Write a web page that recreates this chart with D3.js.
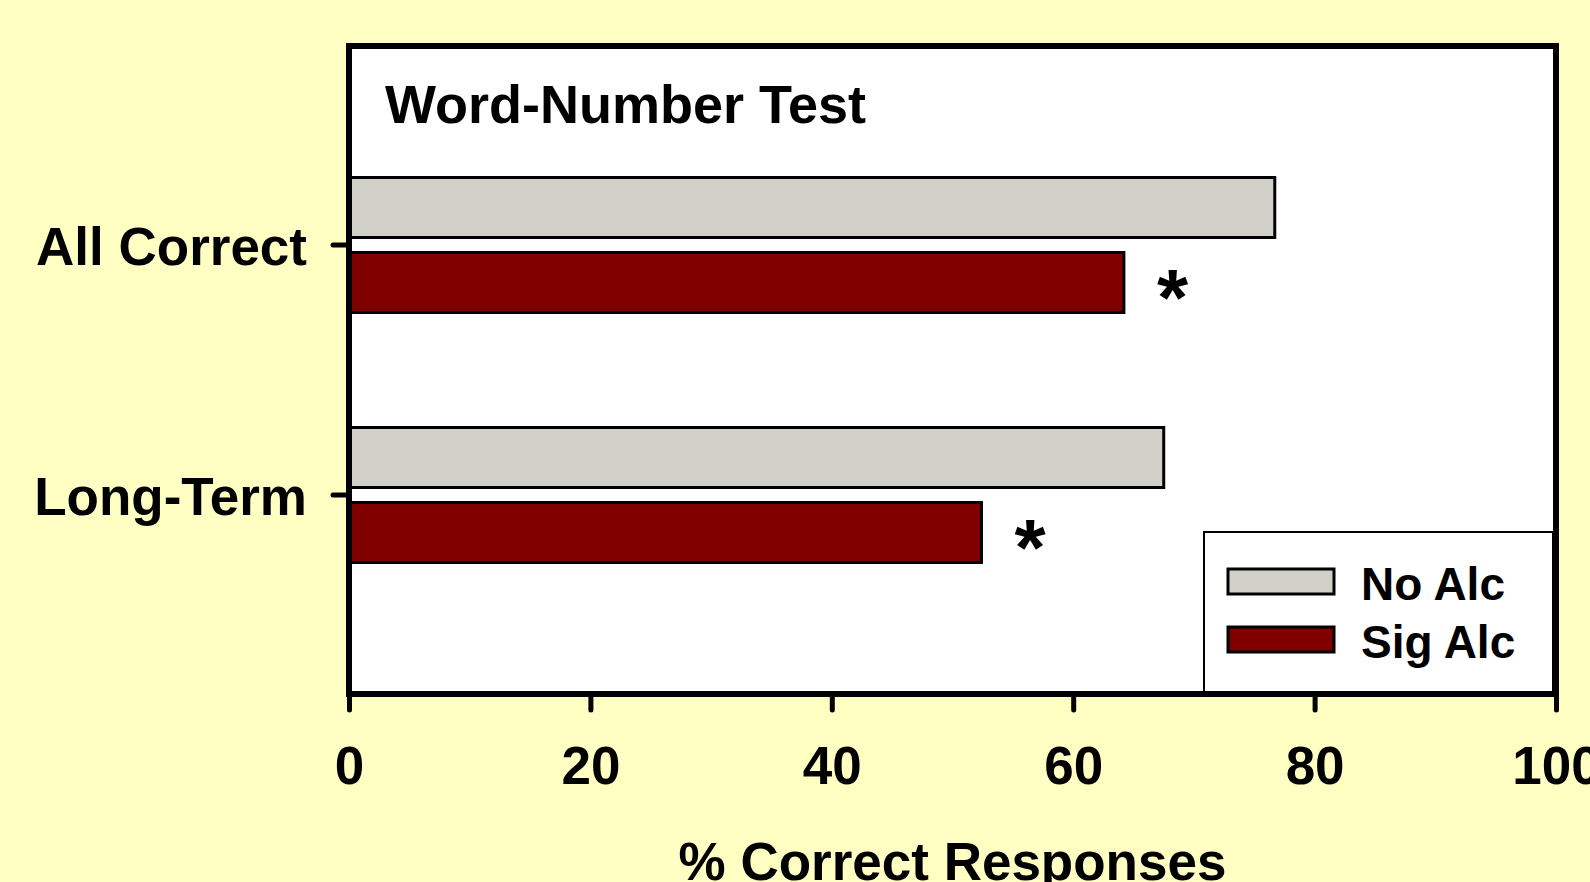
<!DOCTYPE html>
<html>
<head>
<meta charset="utf-8">
<script src="https://cdn.jsdelivr.net/npm/d3@7"></script>
<style>
  html, body { margin: 0; padding: 0; background: #ffffc4; }
  svg { display: block; font-family: "Liberation Sans", Arial, sans-serif; font-weight: bold; }
</style>
</head>
<body>
<div id="chart"></div>
<script>
const categories = ["All Correct", "Long-Term"];
const seriesNames = ["No Alc", "Sig Alc"];
const noAlc = [76.7, 67.5];
const sigAlc = [64.2, 52.4];
const sigMarks = [true, true]; // asterisk after Sig Alc bar
const xTicks = [0, 20, 40, 60, 80, 100];
const colors = ["#d0d0c8", "#800000"];

const width = 1590, height = 882;
const plot = { left: 349, right: 1556, top: 46, bottom: 694 };

const svg = d3.select("#chart")
    .append("svg")
    .attr("width", width)
    .attr("height", height);

svg.append("rect")
    .attr("width", width)
    .attr("height", height)
    .attr("fill", "#ffffc4");

const x = d3.scaleLinear()
    .domain([0, 100])
    .range([plot.left, plot.right]);

const y = d3.scaleBand()
    .domain(categories)
    .range([120, 620])
    .paddingInner(0.46)
    .paddingOuter(0.23);

const ySub = d3.scaleBand()
    .domain(seriesNames)
    .range([0, y.bandwidth()])
    .paddingInner(0.2);

const rows = categories.map((c, i) => ({
    category: c,
    values: [noAlc[i], sigAlc[i]],
    sig: sigMarks[i]
}));

// plot background
svg.append("rect")
    .attr("x", plot.left)
    .attr("y", plot.top)
    .attr("width", plot.right - plot.left)
    .attr("height", plot.bottom - plot.top)
    .attr("fill", "#fff");

// bars
const groups = svg.append("g")
    .selectAll("g")
    .data(rows)
    .join("g")
    .attr("transform", d => `translate(0,${y(d.category)})`);

groups.selectAll("rect")
    .data(d => d.values.map((v, j) => ({ name: seriesNames[j], value: v, color: colors[j] })))
    .join("rect")
    .attr("x", x(0))
    .attr("y", d => ySub(d.name))
    .attr("width", d => x(d.value) - x(0))
    .attr("height", ySub.bandwidth())
    .attr("fill", d => d.color)
    .attr("stroke", "#000")
    .attr("stroke-width", 3);

groups.filter(d => d.sig)
    .append("text")
    .attr("x", d => x(d.values[1]) + 33)
    .attr("y", ySub("Sig Alc") + ySub.bandwidth() / 2 + 42)
    .attr("font-size", 80)
    .text("*");

// title
svg.append("text")
    .attr("x", 385)
    .attr("y", 123)
    .attr("font-size", 54)
    .text("Word-Number Test");

// legend
const legend = svg.append("g").attr("transform", "translate(1204,532)");
legend.append("rect")
    .attr("width", 349)
    .attr("height", 160)
    .attr("fill", "#fff")
    .attr("stroke", "#000")
    .attr("stroke-width", 2);

const items = legend.selectAll("g.item")
    .data(seriesNames)
    .join("g")
    .attr("class", "item")
    .attr("transform", (d, i) => `translate(0,${37 + i * 58})`);

items.append("rect")
    .attr("x", 24)
    .attr("width", 106)
    .attr("height", 25)
    .attr("fill", (d, i) => colors[i])
    .attr("stroke", "#000")
    .attr("stroke-width", 3);

items.append("text")
    .attr("x", 157)
    .attr("y", 31)
    .attr("font-size", 46)
    .text(d => d);

// frame
svg.append("rect")
    .attr("x", plot.left)
    .attr("y", plot.top)
    .attr("width", plot.right - plot.left)
    .attr("height", plot.bottom - plot.top)
    .attr("fill", "none")
    .attr("stroke", "#000")
    .attr("stroke-width", 6);

// x axis
const xAxis = svg.append("g")
    .attr("transform", `translate(0,${plot.bottom})`)
    .call(d3.axisBottom(x).tickValues(xTicks).tickSize(16).tickFormat(d => d));

xAxis.select(".domain").remove();
xAxis.selectAll(".tick line")
    .attr("stroke", "#000")
    .attr("stroke-width", 5)
    .attr("stroke-linecap", "round")
    .attr("y1", 3);
xAxis.selectAll(".tick text")
    .attr("y", 90)
    .attr("dy", null)
    .attr("fill", "#000")
    .attr("font-size", 53)
    .attr("font-family", null);

// y axis
const yAxis = svg.append("g")
    .attr("transform", `translate(${plot.left},0)`)
    .call(d3.axisLeft(y).tickSize(16));

yAxis.select(".domain").remove();
yAxis.selectAll(".tick line")
    .attr("stroke", "#000")
    .attr("stroke-width", 5)
    .attr("stroke-linecap", "round")
    .attr("x1", -3);
yAxis.selectAll(".tick text")
    .attr("x", -42)
    .attr("dy", 20)
    .attr("fill", "#000")
    .attr("font-size", 53)
    .attr("font-family", null);

// x axis title
svg.append("text")
    .attr("x", (plot.left + plot.right) / 2)
    .attr("y", 880)
    .attr("text-anchor", "middle")
    .attr("font-size", 53)
    .text("% Correct Responses");
</script>
</body>
</html>
